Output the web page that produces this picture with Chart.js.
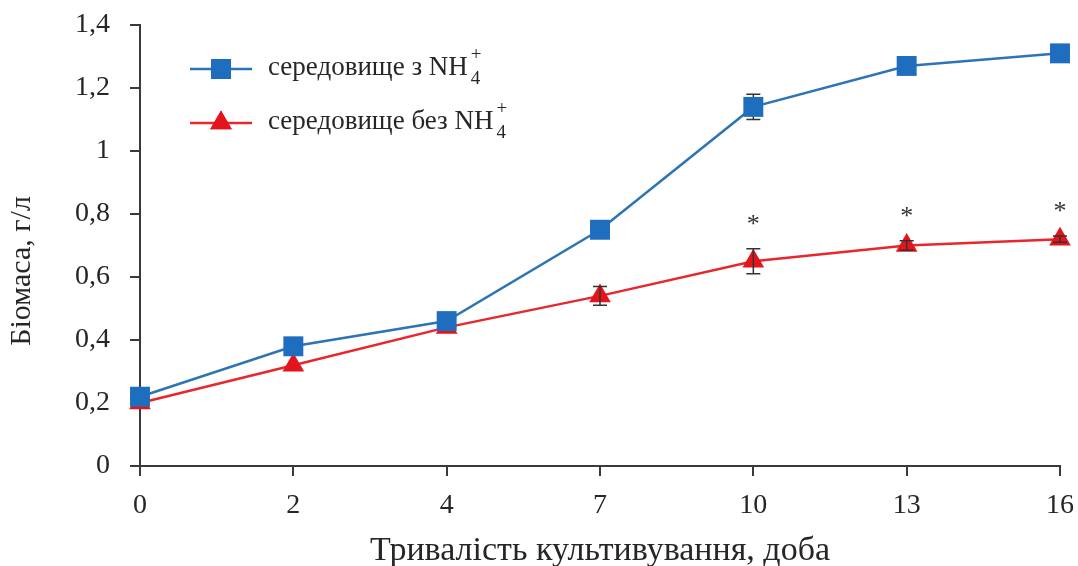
<!DOCTYPE html>
<html lang="uk">
<head>
<meta charset="utf-8">
<title>Біомаса</title>
<script src="https://cdn.jsdelivr.net/npm/chart.js@4/dist/chart.umd.min.js"></script>
<style>
  html, body { margin: 0; padding: 0; background: #ffffff; }
  #wrap { position: relative; width: 1078px; height: 566px; }
</style>
</head>
<body>
<div id="wrap"><canvas id="c"></canvas></div>
<script>
// Тривалість культивування, доба
const days = ['0', '2', '4', '7', '10', '13', '16'];

// Біомаса, г/л — середовище з NH4+
const withNH4 = [0.22, 0.38, 0.46, 0.75, 1.14, 1.27, 1.31];
const withNH4Err = [0.01, 0.015, 0.015, 0.015, 0.04, 0.01, 0.01];

// Біомаса, г/л — середовище без NH4+
const withoutNH4 = [0.20, 0.32, 0.44, 0.54, 0.65, 0.70, 0.72];
const withoutNH4Err = [0, 0, 0, 0.03, 0.04, 0.015, 0.01];

// достовірна різниця між варіантами (*)
const significant = [false, false, false, false, true, true, true];

const yTicks = [0, 0.2, 0.4, 0.6, 0.8, 1, 1.2, 1.4];

const legendLabels = ['середовище з NH', 'середовище без NH'];
const yTitle = 'Біомаса, г/л';
const xTitle = 'Тривалість культивування, доба';

const BLUE = '#1f6dbf';
const BLUE_LINE = '#2e74b5';
const RED = '#e5141c';
const RED_LINE = '#e8262c';
const AXIS = '#3a3a3a';
const TEXT = '#262626';
const SERIF = '"Liberation Serif", "Times New Roman", serif';

function fmt(v) {
  return String(Number(v.toFixed(1))).replace('.', ',');
}

function drawErrors(chart, dsIndex, errs) {
  const meta = chart.getDatasetMeta(dsIndex);
  const y = chart.scales.y;
  const ctx = chart.ctx;
  const vals = chart.data.datasets[dsIndex].data;
  ctx.save();
  ctx.strokeStyle = '#333333';
  ctx.lineWidth = 1.5;
  meta.data.forEach((pt, i) => {
    if (!errs[i]) return;
    const top = y.getPixelForValue(vals[i] + errs[i]);
    const bot = y.getPixelForValue(vals[i] - errs[i]);
    const x = pt.x;
    ctx.beginPath();
    ctx.moveTo(x, top); ctx.lineTo(x, bot);
    ctx.moveTo(x - 7, top); ctx.lineTo(x + 7, top);
    ctx.moveTo(x - 7, bot); ctx.lineTo(x + 7, bot);
    ctx.stroke();
  });
  ctx.restore();
}

// blue bars sit under the squares, red bars over the triangles
const errorBars = {
  id: 'errorBars',
  beforeDatasetDraw(chart, args) {
    if (args.index === 0) drawErrors(chart, 0, withNH4Err);
  },
  afterDatasetDraw(chart, args) {
    if (args.index === 1) drawErrors(chart, 1, withoutNH4Err);
  }
};

const stars = {
  id: 'stars',
  afterDatasetsDraw(chart) {
    const meta = chart.getDatasetMeta(1);
    const y = chart.scales.y;
    const ctx = chart.ctx;
    ctx.save();
    ctx.fillStyle = '#333333';
    ctx.font = '26px ' + SERIF;
    ctx.textAlign = 'center';
    ctx.textBaseline = 'alphabetic';
    meta.data.forEach((pt, i) => {
      if (!significant[i]) return;
      const top = y.getPixelForValue(withoutNH4[i] + withoutNH4Err[i]);
      ctx.fillText('*', pt.x, top - 17);
    });
    ctx.restore();
  }
};

const verticalTitle = {
  id: 'verticalTitle',
  afterDraw(chart) {
    const ctx = chart.ctx;
    ctx.save();
    ctx.translate(22, 271);
    ctx.rotate(-Math.PI / 2);
    ctx.fillStyle = TEXT;
    ctx.font = '30px ' + SERIF;
    ctx.textAlign = 'center';
    ctx.textBaseline = 'middle';
    ctx.fillText(yTitle, 0, 0);
    ctx.restore();
  }
};

const formulaLegend = {
  id: 'formulaLegend',
  afterDraw(chart) {
    const ctx = chart.ctx;
    const rows = [
      { y: 69, color: BLUE, line: BLUE_LINE, style: 'rect', radius: 14.1, text: legendLabels[0] },
      { y: 123, color: RED, line: RED_LINE, style: 'triangle', radius: 12.5, text: legendLabels[1] }
    ];
    ctx.save();
    rows.forEach(r => {
      ctx.strokeStyle = r.line;
      ctx.lineWidth = 2.5;
      ctx.beginPath();
      ctx.moveTo(190, r.y); ctx.lineTo(252, r.y);
      ctx.stroke();
      ctx.fillStyle = r.color;
      Chart.helpers.drawPoint(ctx, { pointStyle: r.style, radius: r.radius, borderWidth: 0 }, 221, r.y);
      ctx.fill();

      ctx.fillStyle = TEXT;
      ctx.font = '27px ' + SERIF;
      ctx.textAlign = 'left';
      ctx.textBaseline = 'alphabetic';
      const base = r.y + 6;
      ctx.fillText(r.text, 268, base);
      const w = ctx.measureText(r.text).width;
      ctx.font = '19px ' + SERIF;
      ctx.fillText('+', 268 + w + 3, base - 15);
      ctx.fillText('4', 268 + w + 3, base + 9);
    });
    ctx.restore();
  }
};

new Chart(document.getElementById('c'), {
  type: 'line',
  data: {
    labels: days,
    datasets: [
      {
        label: 'середовище з NH4+',
        data: withNH4,
        borderColor: BLUE_LINE,
        borderWidth: 2.5,
        backgroundColor: BLUE,
        pointStyle: 'rect',
        pointRadius: 14.1,
        pointHoverRadius: 14.1,
        pointBorderWidth: 0,
        pointBackgroundColor: BLUE,
        tension: 0
      },
      {
        label: 'середовище без NH4+',
        data: withoutNH4,
        borderColor: RED_LINE,
        borderWidth: 2.5,
        backgroundColor: RED,
        pointStyle: 'triangle',
        pointRadius: 12.5,
        pointHoverRadius: 12.5,
        pointBorderWidth: 0,
        pointBackgroundColor: RED,
        tension: 0
      }
    ]
  },
  options: {
    responsive: true,
    maintainAspectRatio: false,
    animation: false,
    events: [],
    layout: { padding: { top: 25, right: 18, left: 0, bottom: 0 } },
    plugins: {
      legend: { display: false },
      tooltip: { enabled: false }
    },
    scales: {
      x: {
        type: 'category',
        offset: false,
        grid: { drawOnChartArea: false, drawTicks: true, tickLength: 10, color: AXIS, lineWidth: 2 },
        border: { display: true, color: AXIS, width: 2 },
        ticks: { color: TEXT, font: { family: SERIF, size: 28 }, padding: 13, maxRotation: 0, autoSkip: false },
        title: {
          display: true,
          text: xTitle,
          color: TEXT,
          font: { family: SERIF, size: 34 },
          padding: { top: 0, bottom: -5 }
        },
        afterFit(scale) {
          scale.height = 100;
          scale.paddingLeft = 0;
          scale.paddingRight = 0;
        }
      },
      y: {
        min: 0,
        max: 1.4,
        grid: { drawOnChartArea: false, drawTicks: true, tickLength: 10, color: AXIS, lineWidth: 2 },
        border: { display: true, color: AXIS, width: 2 },
        afterBuildTicks(scale) { scale.ticks = yTicks.map(v => ({ value: v })); },
        ticks: {
          color: TEXT,
          font: { family: SERIF, size: 28 },
          padding: 20,
          callback: v => fmt(v)
        },
        afterFit(scale) {
          scale.width = 140;
          scale.paddingTop = 0;
          scale.paddingBottom = 0;
        }
      }
    }
  },
  plugins: [errorBars, stars, verticalTitle, formulaLegend]
});
</script>
</body>
</html>
